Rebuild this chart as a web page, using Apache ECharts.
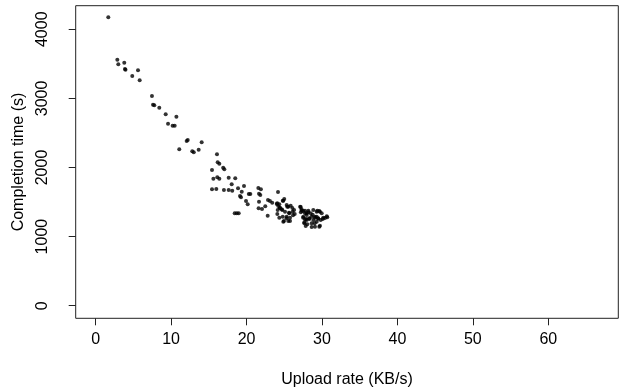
<!DOCTYPE html>
<html>
<head>
<meta charset="utf-8">
<script src="https://cdn.jsdelivr.net/npm/echarts@6/dist/echarts.min.js"></script>
<style>html,body{margin:0;padding:0;background:#fff}#c{width:626px;height:388px}</style>
</head>
<body>
<div id="c"></div>
<script>
var xTicks = [0, 10, 20, 30, 40, 50, 60];
var yTicks = [0, 1000, 2000, 3000, 4000];
var uploadRate = [
1.67,2.87,3.0,3.79,3.88,3.95,4.85,5.61,5.83,7.46,7.6,7.77,8.43,9.28,10.7,9.59,10.2,10.47,
12.06,12.2,11.08,12.8,13.0,13.65,14.05,16.08,16.17,16.39,16.9,17.05,15.42,15.6,16.12,16.39,
17.63,18.5,18.03,15.42,15.99,17.0,17.63,18.1,18.87,19.66,19.36,19.13,19.26,20.3,20.5,19.93,20.15,
21.56,21.9,21.65,21.82,21.65,21.6,22.05,22.48,22.8,22.84,23.1,23.4,24.17,24.87,24.0,24.2,24.4,
24.13,24.74,24.08,24.34,24.96,25.76,25.4,25.85,26.07,25.63,26.16,26.38,25.32,27.18,27.3,27.75,
27.97,28.19,27.52,27.75,27.97,27.66,27.84,28.63,28.5,28.77,28.32,28.85,29.07,29.38,29.73,29.3,
29.5,29.83,29.64,29.03,30.1,30.4,30.7,18.43,18.7,18.96,
24.8,25.0,24.07,24.34,24.43,24.66,25.32,25.53,25.1,25.67,26.1,26.3,24.8,25.3,25.76,24.87,25.53,
27.1,27.3,27.2,27.5,27.75,27.97,28.19,27.5,27.9,28.3,28.6,27.66,28.05,28.63,28.85,29.3,29.64,29.96,
29.07,29.5,30.17,30.63,29.3,29.73,29.07
];
var completionTime = [
4175,3560,3493,3516,3425,3415,3324,3406,3261,3034,2909,2900,2865,2770,2735,2634,2605,2605,
2383,2398,2263,2234,2220,2257,2364,2190,2075,2055,1997,1974,1964,1838,1858,1838,
1852,1843,1757,1684,1689,1674,1674,1664,1699,1732,1650,1587,1568,1616,1616,1515,1467,
1703,1684,1620,1602,1505,1409,1399,1438,1302,1529,1515,1490,1645,1519,1471,1442,1414,
1385,1385,1327,1273,1226,1226,1433,1447,1414,1346,1308,1327,1288,1428,1375,1375,
1337,1375,1288,1250,1240,1192,1153,1139,1337,1317,1255,1240,1273,1375,1360,1288,
1259,1240,1143,1192,1255,1269,1279,1337,1337,1337,
1519,1544,1482,1467,1418,1395,1457,1433,1360,1337,1360,1385,1288,1265,1273,1215,1226,
1433,1395,1351,1370,1337,1312,1351,1273,1255,1265,1288,1206,1178,1192,1385,1360,1370,1337,
1288,1265,1273,1293,1215,1157,1143
];
var pts = uploadRate.map(function (x, i) { return [x, completionTime[i]]; });
var chart = echarts.init(document.getElementById('c'), null, {renderer: 'canvas'});
var font = 'Liberation Sans, Arial, Helvetica, sans-serif';
function plain(v) { return String(v); }
chart.setOption({
  animation: false,
  backgroundColor: '#fff',
  grid: {left: 75.7, right: 7.7, top: 5.7, bottom: 69.7, show: true, borderColor: '#222', borderWidth: 1, backgroundColor: 'transparent', outerBoundsMode: 'none', containLabel: false},
  xAxis: {
    type: 'value', min: -2.65, max: 69.28,
    axisLine: {show: false, onZero: false},
    splitLine: {show: false},
    axisTick: {show: true, inside: false, length: 7, lineStyle: {color: '#222'}, customValues: xTicks},
    axisLabel: {customValues: xTicks, formatter: plain, margin: 13, color: '#000', fontSize: 16, fontFamily: font},
    name: 'Upload rate (KB/s)', nameLocation: 'middle', nameGap: 53,
    nameTextStyle: {color: '#000', fontSize: 16, fontFamily: font}
  },
  yAxis: {
    type: 'value', min: -182, max: 4341,
    axisLine: {show: false, onZero: false},
    splitLine: {show: false},
    axisTick: {show: true, inside: false, length: 7, lineStyle: {color: '#222'}, customValues: yTicks},
    axisLabel: {customValues: yTicks, formatter: plain, rotate: 90, margin: 25, color: '#000', fontSize: 16, fontFamily: font},
    name: 'Completion time (s)', nameLocation: 'middle', nameGap: 41,
    nameTextStyle: {color: '#000', fontSize: 16, fontFamily: font}
  },
  series: [{
    type: 'scatter', data: pts, symbol: 'circle', symbolSize: 4,
    itemStyle: {color: '#000'}
  }]
});
</script>
</body>
</html>
